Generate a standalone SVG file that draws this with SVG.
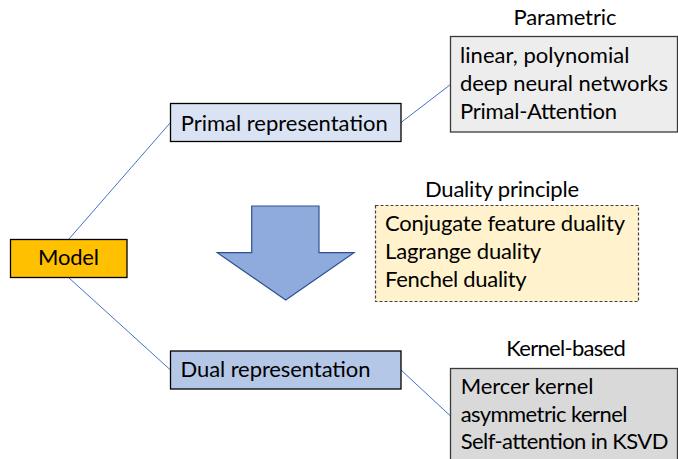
<svg xmlns="http://www.w3.org/2000/svg" width="678" height="459" viewBox="0 0 678 459">
  <style>
    text { font-family: Lato, "Liberation Sans", sans-serif; font-size: 22px; fill: #000; }
    .box { stroke: #000; stroke-width: 1.3; }
    .list { stroke: #3a3a3a; stroke-width: 1.3; }
    .link { fill: none; stroke: #4472C4; stroke-width: 1; }
    .mid { text-anchor: middle; }
  </style>

  <!-- connectors -->
  <g id="connectors">
    <line class="link" x1="68.5" y1="239.5" x2="170.5" y2="122.5"/>
    <line class="link" x1="68.5" y1="277.5" x2="170.5" y2="370"/>
    <line class="link" x1="401" y1="122.5" x2="450.5" y2="84.5"/>
    <line class="link" x1="401" y1="370" x2="450.5" y2="416"/>
  </g>

  <g id="model">
    <rect class="box" x="10.5" y="239.5" width="116.5" height="38" fill="#FFC000"/>
    <text class="mid" x="68.5" y="265" textLength="61">Model</text>
  </g>

  <g id="primal">
    <rect class="box" x="170.5" y="103.5" width="230.5" height="38" fill="#DAE3F3"/>
    <text x="180.7" y="130.5" textLength="207">Primal representation</text>
  </g>

  <g id="dual">
    <rect class="box" x="170.5" y="351" width="230.5" height="38" fill="#B4C7E7"/>
    <text x="180.5" y="377" textLength="190">Dual representation</text>
  </g>

  <g id="parametric">
    <text class="mid" x="565" y="25" textLength="103">Parametric</text>
    <rect class="list" x="450.5" y="36.5" width="227" height="95.5" fill="#EDEDED"/>
    <text x="460" y="63" textLength="169.5">linear, polynomial</text>
    <text x="460" y="91" textLength="208">deep neural networks</text>
    <text x="460" y="119" textLength="157">Primal-Attention</text>
  </g>

  <g id="duality">
    <text class="mid" x="502" y="197" textLength="154">Duality principle</text>
    <rect x="375.5" y="205.5" width="263" height="96" fill="#FFF2CC" stroke="#404040" stroke-width="1.2" stroke-dasharray="3 2"/>
    <text x="385" y="231" textLength="240">Conjugate feature duality</text>
    <text x="385" y="259" textLength="156">Lagrange duality</text>
    <text x="385" y="287" textLength="141.7">Fenchel duality</text>
  </g>

  <g id="kernel">
    <text class="mid" x="566" y="356" textLength="119.5">Kernel-based</text>
    <rect class="list" x="450.5" y="368.5" width="227" height="100" fill="#D9D9D9"/>
    <text x="460.7" y="394" textLength="132.7">Mercer kernel</text>
    <text x="460.7" y="421.5" textLength="166.7">asymmetric kernel</text>
    <text x="460.7" y="449" textLength="207.7">Self-attention in KSVD</text>
  </g>

  <g id="arrow">
    <polygon points="251.7,206 319,206 319,252.7 354,252.7 285.7,300 217.3,252.7 251.7,252.7" fill="#8FAADC" stroke="#2F528F" stroke-width="1.2" stroke-linejoin="miter"/>
  </g>
</svg>
